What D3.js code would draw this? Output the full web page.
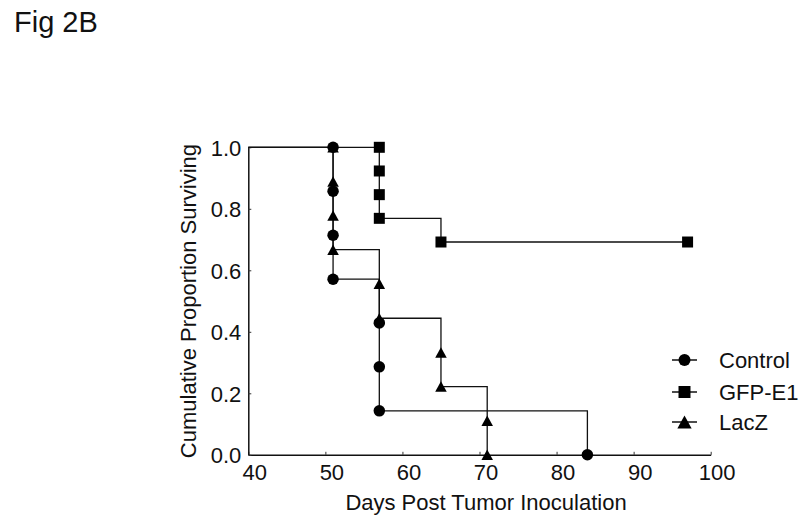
<!DOCTYPE html>
<html>
<head>
<meta charset="utf-8">
<script src="https://cdn.jsdelivr.net/npm/d3@7"></script>
<style>
  html, body { margin: 0; padding: 0; background: #fff; }
  svg { display: block; }
  text { font-family: "Liberation Sans", Arial, sans-serif; fill: #111; }
</style>
</head>
<body>
<div id="chart"></div>
<script>
// ---- Data ----
const seriesNames = ["Control", "GFP-E1", "LacZ"];
const seriesShapes = ["circle", "square", "triangle"];

// Step curves (Kaplan-Meier style): day, survival after that day
const controlStepDays = [40, 51, 57, 84];
const controlStepSurv = [1.0, 0.571, 0.143, 0.0];
const gfpStepDays = [40, 57, 65, 97];
const gfpStepSurv = [1.0, 0.769, 0.692, 0.692];
const laczStepDays = [40, 51, 57, 65, 71];
const laczStepSurv = [1.0, 0.667, 0.444, 0.222, 0.0];

// Marker points
const controlMarkDays = [51, 51, 51, 51, 57, 57, 57, 84];
const controlMarkSurv = [1.0, 0.857, 0.714, 0.571, 0.429, 0.286, 0.143, 0.0];
const gfpMarkDays = [57, 57, 57, 57, 65, 97];
const gfpMarkSurv = [1.0, 0.923, 0.846, 0.769, 0.692, 0.692];
const laczMarkDays = [51, 51, 51, 51, 57, 57, 65, 65, 71, 71];
const laczMarkSurv = [1.0, 0.889, 0.778, 0.667, 0.556, 0.444, 0.333, 0.222, 0.111, 0.0];

const xTicks = [40, 50, 60, 70, 80, 90, 100];
const yTicks = [0.0, 0.2, 0.4, 0.6, 0.8, 1.0];

const titleText = "Fig 2B";
const xTitle = "Days Post Tumor Inoculation";
const yTitle = "Cumulative Proportion Surviving";

// ---- Build ----
const W = 800, H = 523;
const FS = 22;
const svg = d3.select("#chart").append("svg").attr("width", W).attr("height", H);

const x = d3.scaleLinear().domain([40, 100]).range([248.3, 710.7]);
const y = d3.scaleLinear().domain([0, 1]).range([454.8, 147.3]);

function shapePath(shape, cx, cy, s) {
  if (shape === "circle") {
    const r = s / 2;
    return `M${cx - r},${cy}a${r},${r} 0 1,0 ${2 * r},0a${r},${r} 0 1,0 ${-2 * r},0Z`;
  } else if (shape === "square") {
    const h = s / 2;
    return `M${cx - h},${cy - h}h${s}v${s}h${-s}Z`;
  } else {
    const w = s * 1.1, ht = s;
    return `M${cx},${cy - ht / 2}L${cx + w / 2},${cy + ht / 2}L${cx - w / 2},${cy + ht / 2}Z`;
  }
}

// Title
svg.append("text").attr("x", 14).attr("y", 32).attr("font-size", 29).text(titleText);

// Axes
const xAxis = d3.axisBottom(x).tickValues(xTicks).tickSizeInner(-3).tickSizeOuter(0).tickFormat(d3.format("d"));
const yAxis = d3.axisLeft(y).tickValues(yTicks).tickSizeInner(-3).tickSizeOuter(0).tickFormat(d3.format(".1f"));

const gx = svg.append("g").attr("transform", `translate(0,${y(0)})`).call(xAxis);
gx.select(".domain").attr("stroke", "#111").attr("stroke-width", 1.5);
gx.selectAll(".tick line").attr("stroke", "#333").attr("stroke-width", 1);
gx.selectAll(".tick text").attr("font-size", FS).attr("font-family", "Liberation Sans, Arial, sans-serif")
  .attr("fill", "#111").attr("dx", 6).attr("y", 10).attr("dy", "0.71em");

const gy = svg.append("g").attr("transform", `translate(${x(40)},0)`).call(yAxis);
gy.select(".domain").attr("stroke", "#111").attr("stroke-width", 1.5);
gy.selectAll(".tick line").attr("stroke", "#333").attr("stroke-width", 1);
gy.selectAll(".tick text").attr("font-size", FS).attr("font-family", "Liberation Sans, Arial, sans-serif")
  .attr("fill", "#111").attr("x", -7).attr("dy", "0.36em");

// Axis titles
svg.append("text").attr("x", 486).attr("y", 510).attr("text-anchor", "middle").attr("font-size", FS).text(xTitle);
svg.append("text").attr("transform", `translate(196,${(y(0) + y(1)) / 2}) rotate(-90)`)
  .attr("text-anchor", "middle").attr("font-size", FS).text(yTitle);

// Series
const series = [
  { name: seriesNames[0], shape: seriesShapes[0], sd: controlStepDays, ss: controlStepSurv, md: controlMarkDays, ms: controlMarkSurv, size: 11.5 },
  { name: seriesNames[1], shape: seriesShapes[1], sd: gfpStepDays, ss: gfpStepSurv, md: gfpMarkDays, ms: gfpMarkSurv, size: 11 },
  { name: seriesNames[2], shape: seriesShapes[2], sd: laczStepDays, ss: laczStepSurv, md: laczMarkDays, ms: laczMarkSurv, size: 10.5 }
];

const line = d3.line().x(d => x(d[0])).y(d => y(d[1])).curve(d3.curveStepAfter);

series.forEach(s => {
  const pts = s.sd.map((d, i) => [d, s.ss[i]]);
  svg.append("path").attr("d", line(pts)).attr("fill", "none").attr("stroke", "#111").attr("stroke-width", 1.3);
});

// Draw markers: LacZ first, then GFP, then Control on top
[series[2], series[1], series[0]].forEach(s => {
  s.md.forEach((d, i) => {
    svg.append("path").attr("d", shapePath(s.shape, x(d), y(s.ms[i]), s.size)).attr("fill", "#000");
  });
});

// Legend
const legY = [360, 392, 422];
const legSizes = [12, 12, 13];
series.forEach((s, i) => {
  const g = svg.append("g");
  g.append("line").attr("x1", 672).attr("x2", 697).attr("y1", legY[i]).attr("y2", legY[i])
    .attr("stroke", "#111").attr("stroke-width", 1.5);
  g.append("path").attr("d", shapePath(s.shape, 684.5, legY[i], legSizes[i])).attr("fill", "#000");
  g.append("text").attr("x", 719).attr("y", legY[i]).attr("dy", "0.36em").attr("font-size", FS).text(s.name);
});
</script>
</body>
</html>
